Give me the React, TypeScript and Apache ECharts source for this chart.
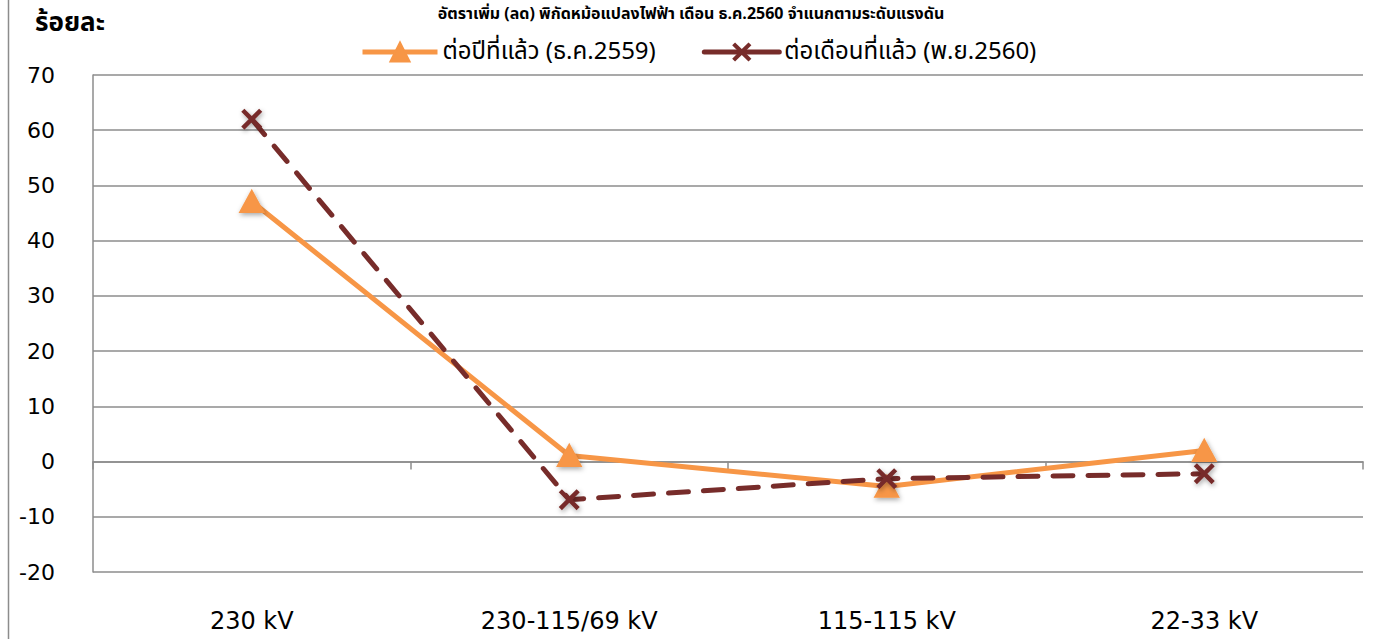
import React, { useEffect, useRef } from "react";
import * as echarts from "echarts";

const categories = ["230 kV", "230-115/69 kV", "115-115 kV", "22-33 kV"];
const yoyValues = [47.1, 1.1, -4.5, 2.0];
const momValues = [62.0, -6.9, -3.1, -2.2];
const seriesNames = ["ต่อปีที่แล้ว (ธ.ค.2559)", "ต่อเดือนที่แล้ว (พ.ย.2560)"];
const titleText = "อัตราเพิ่ม (ลด) พิกัดหม้อแปลงไฟฟ้า เดือน ธ.ค.2560 จำแนกตามระดับแรงดัน";
const yAxisName = "ร้อยละ";

const FONT = "'Noto Sans Thai', 'Noto Sans', 'DejaVu Sans', sans-serif";
const NUMFONT = "'DejaVu Sans', 'Noto Sans', sans-serif";
const ORANGE = "#F79646";
const DARKRED = "#772C2A";
const GRID = "#8C8C8C";
const XPATH =
  "path://M3,0 L10,7 L17,0 L20,3 L13,10 L20,17 L17,20 L10,13 L3,20 L0,17 L7,10 L0,3 Z";

export default function App() {
  const ref = useRef<HTMLDivElement>(null);
  useEffect(() => {
    document.body.style.margin = "0";
    const chart = echarts.init(ref.current!, null, { renderer: "svg" });
    chart.setOption({
      animation: false,
      backgroundColor: "#ffffff",
      title: {
        text: titleText,
        left: "center",
        top: 4,
        padding: 0,
        textStyle: { fontFamily: FONT, fontSize: 16, fontWeight: "bold", color: "#000", lineHeight: 20 },
      },
      graphic: [
        {
          type: "line",
          shape: { x1: 8.5, y1: 0, x2: 8.5, y2: 639 },
          style: { stroke: "#8C8C8C", lineWidth: 1.5 },
        },
        {
          type: "text",
          left: 35,
          top: 10,
          style: { text: yAxisName, font: `bold 26px ${FONT}`, fill: "#000" },
        },
      ],
      legend: {
        top: 35,
        left: 355,
        itemWidth: 75,
        itemHeight: 24,
        itemGap: 46,
        textStyle: { fontFamily: FONT, fontSize: 24, color: "#000" },
        lineStyle: { width: 5 },
        data: [
          { name: seriesNames[0] },
          { name: seriesNames[1], lineStyle: { type: "solid", width: 5, color: DARKRED } },
        ],
      },
      grid: { left: 93, right: 19, top: 75, bottom: 67 },
      xAxis: [
        {
          type: "category",
          data: categories,
          boundaryGap: true,
          position: "bottom",
          axisLine: { show: false, onZero: false },
          axisTick: { show: false },
          axisLabel: { margin: 37, fontFamily: NUMFONT, fontSize: 24, color: "#000" },
        },
        {
          type: "category",
          data: categories,
          boundaryGap: true,
          position: "bottom",
          axisLine: { show: true, onZero: true, lineStyle: { color: GRID, width: 1.5 } },
          axisTick: { show: true, length: 8, lineStyle: { color: GRID, width: 1.5 } },
          axisLabel: { show: false },
        },
      ],
      yAxis: {
        type: "value",
        min: -20,
        max: 70,
        interval: 10,
        axisLine: { show: true, lineStyle: { color: GRID, width: 1.5 } },
        axisTick: { show: false },
        axisLabel: { margin: 38, fontFamily: NUMFONT, fontSize: 22, color: "#000" },
        splitLine: { show: true, lineStyle: { color: GRID, width: 1.5 } },
      },
      series: [
        {
          name: seriesNames[0],
          type: "line",
          data: yoyValues,
          symbol: "triangle",
          symbolSize: [23, 21],
          lineStyle: { color: ORANGE, width: 5 },
          itemStyle: {
            color: ORANGE,
            borderColor: ORANGE,
            borderWidth: 2,
            shadowColor: "rgba(0,0,0,0.35)",
            shadowBlur: 5,
            shadowOffsetX: 1,
            shadowOffsetY: 2,
          },
          z: 3,
        },
        {
          name: seriesNames[1],
          type: "line",
          data: momValues,
          symbol: XPATH,
          symbolSize: 21,
          lineStyle: { color: DARKRED, width: 5, type: [20, 15], cap: "round" },
          itemStyle: {
            color: DARKRED,
            borderWidth: 0,
            shadowColor: "rgba(0,0,0,0.35)",
            shadowBlur: 5,
            shadowOffsetX: 1,
            shadowOffsetY: 2,
          },
          z: 4,
        },
      ],
    });
    return () => chart.dispose();
  }, []);
  return <div ref={ref} style={{ width: 1382, height: 639 }} />;
}
